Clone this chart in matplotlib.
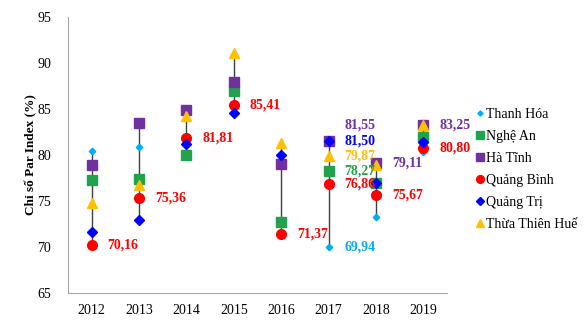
import matplotlib
matplotlib.use('Agg')
import numpy as np
import matplotlib.pyplot as plt

plt.rcParams['font.family'] = ['Liberation Serif', 'DejaVu Serif']

# Data
years = ['2012', '2013', '2014', '2015', '2016', '2017', '2018', '2019']
thanh_hoa = [80.4, 80.9, 81.1, 84.6, 72.9, 69.94, 73.2, 80.3]
nghe_an = [77.3, 77.4, 80.0, 86.9, 72.7, 78.27, 76.9, 82.0]
ha_tinh = [78.9, 83.5, 84.9, 87.9, 79.0, 81.55, 79.11, 83.25]
quang_binh = [70.16, 75.36, 81.81, 85.41, 71.37, 76.86, 75.67, 80.80]
quang_tri = [71.6, 72.9, 81.2, 84.5, 80.0, 81.50, 77.0, 81.4]
thua_thien_hue = [74.8, 76.7, 84.2, 91.1, 81.3, 79.87, 78.9, 83.2]

names = ['Thanh Hóa', 'Nghệ An', 'Hà Tĩnh', 'Quảng Bình', 'Quảng Trị', 'Thừa Thiên Huế']
series = [thanh_hoa, nghe_an, ha_tinh, quang_binh, quang_tri, thua_thien_hue]
colors = ['#00b0f0', '#21a34e', '#7030a0', '#ff0000', '#0000ff', '#ffc000']
markers = ['D', 's', 's', 'o', 'D', '^']
msizes = [3.3, 6.5, 6.5, 7, 4.8, 7]

# labelled points: (year index, series index, extra vertical shift in px)
labels = [(0, 3, 0), (1, 3, 0), (2, 3, 0), (3, 3, 0), (4, 3, 0),
          (5, 2, 16), (5, 4, 0), (5, 5, 0), (5, 1, 0), (5, 3, 0), (5, 0, 0),
          (6, 2, 0), (6, 3, 0), (7, 2, 0), (7, 3, 0)]

fig = plt.figure(figsize=(5.86, 3.31), dpi=100)
ax = fig.add_axes([0.116, 0.115, 0.647, 0.834])

x = np.arange(len(years))
vals = np.array(series)
ax.vlines(x, vals.min(axis=0), vals.max(axis=0), color='#404040', lw=1, zorder=1)

for s, n, c, m, ms in zip(series, names, colors, markers, msizes):
    ax.plot(x, s, linestyle='none', marker=m, color=c, markersize=ms, label=n, zorder=3)

for i, j, dy in labels:
    v = series[j][i]
    ax.annotate(f'{v:.2f}'.replace('.', ','), (x[i], v), xytext=(16, dy),
                textcoords='offset pixels', ha='left', va='center',
                color=colors[j], fontsize=10, fontweight='bold')

ax.set_xlim(-0.5, 7.5)
ax.set_ylim(65, 95)
ax.set_yticks(range(65, 96, 5))
ax.set_xticks(x)
ax.set_xticklabels(years)
ax.tick_params(length=0, labelsize=10, pad=8)
ax.tick_params(axis='y', pad=12)
for sp in ['top', 'right']:
    ax.spines[sp].set_visible(False)
for sp in ['left', 'bottom']:
    ax.spines[sp].set_color('#a6a6a6')
ax.set_ylabel('Chỉ số Par Index (%)', fontsize=9.5, fontweight='bold', labelpad=0)

fig.legend(loc='upper left', bbox_to_anchor=(0.797, 0.69), frameon=False,
           fontsize=10, handletextpad=0.0, handlelength=1.0, labelspacing=0.65,
           borderaxespad=0, markerscale=0.8)

fig.savefig('out.png', dpi=100)
